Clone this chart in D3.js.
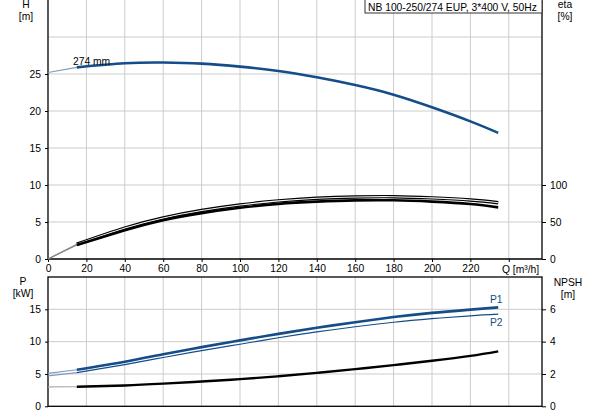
<!DOCTYPE html>
<html>
<head>
<meta charset="utf-8">
<script src="https://cdnjs.cloudflare.com/ajax/libs/d3/7.8.5/d3.min.js"></script>
<style>
  body { margin: 0; background: #fff; }
  text { font-family: Arial, "Liberation Sans", sans-serif; font-size: 10.3px; fill: #000; }
</style>
</head>
<body>
<div class="chart"></div>
<script>
var qValues = [0, 15, 40, 60, 80, 100, 120, 140, 160, 180, 200, 220, 234.5];
var head = [25.2, 25.9, 26.45, 26.55, 26.4, 26.0, 25.4, 24.55, 23.5, 22.2, 20.5, 18.6, 17.05];
var etaPump = [0, 20, 41.8, 55.5, 65.5, 73, 78.5, 82, 83.8, 84.2, 82.6, 79.7, 76];
var etaTotal = [0, 19, 38.8, 52.5, 62, 69.2, 74.5, 77.5, 79.2, 79.3, 77.5, 74.3, 69.8];
var p1 = [5.1, 5.65, 6.9, 8.05, 9.15, 10.2, 11.2, 12.15, 13.0, 13.8, 14.45, 14.95, 15.3];
var p2 = [4.7, 5.2, 6.45, 7.55, 8.6, 9.6, 10.6, 11.5, 12.3, 13.0, 13.55, 14.0, 14.25];
var npsh = [1.2, 1.21, 1.29, 1.4, 1.53, 1.68, 1.86, 2.07, 2.3, 2.55, 2.82, 3.12, 3.4];

var qTicks = [0, 20, 40, 60, 80, 100, 120, 140, 160, 180, 200, 220];
var hTicks = [0, 5, 10, 15, 20, 25];
var hGrid = [5, 10, 15, 20, 25, 30];
var etaTicks = [0, 50, 100];
var pTicks = [0, 5, 10, 15];
var npshTicks = [0, 2, 4, 6];
var title = "NB 100-250/274 EUP, 3*400 V, 50Hz";
var minFlow = 15;

var W = 593, H = 415;
var left = 48, right = 542;
var top1 = 0, bottom1 = 259;
var top2 = 277, bottom2 = 406.3;

var blue = "#144d89";
var grid = "#cccccc";

var svg = d3.select(".chart").append("svg")
    .attr("width", W).attr("height", H);

var x = d3.scaleLinear().domain([0, 257.3]).range([left, right]);
var yH = d3.scaleLinear().domain([0, 35]).range([bottom1, top1]);
var yEta = d3.scaleLinear().domain([0, 350]).range([bottom1, top1]);
var yP = d3.scaleLinear().domain([0, 20]).range([bottom2, top2]);
var yN = d3.scaleLinear().domain([0, 8]).range([bottom2, top2]);

var qGrid = qTicks.slice(1).concat([240]);

// grids
svg.append("g").selectAll("line").data(qGrid).enter().append("line")
    .attr("x1", d => x(d)).attr("x2", d => x(d))
    .attr("y1", top1).attr("y2", bottom1)
    .attr("stroke", grid).attr("stroke-width", 1);
svg.append("g").selectAll("line").data(qGrid).enter().append("line")
    .attr("x1", d => x(d)).attr("x2", d => x(d))
    .attr("y1", top2).attr("y2", bottom2)
    .attr("stroke", grid).attr("stroke-width", 1);
svg.append("g").selectAll("line").data(hGrid).enter().append("line")
    .attr("x1", left).attr("x2", right)
    .attr("y1", d => yH(d)).attr("y2", d => yH(d))
    .attr("stroke", grid).attr("stroke-width", 1);
svg.append("g").selectAll("line").data(pTicks.slice(1)).enter().append("line")
    .attr("x1", left).attr("x2", right)
    .attr("y1", d => yP(d)).attr("y2", d => yP(d))
    .attr("stroke", grid).attr("stroke-width", 1);

// axes
function axisL(scale, ticks, tx) {
    svg.append("g").attr("transform", "translate(" + tx + ",0)")
        .call(d3.axisLeft(scale).tickValues(ticks).tickSize(3).tickPadding(4))
        .call(g => g.select(".domain").remove());
}
function axisR(scale, ticks, tx) {
    svg.append("g").attr("transform", "translate(" + tx + ",0)")
        .call(d3.axisRight(scale).tickValues(ticks).tickSize(4).tickPadding(4))
        .call(g => g.select(".domain").remove());
}
axisL(yH, hTicks, left);
axisR(yEta, etaTicks, right);
axisL(yP, pTicks, left);
axisR(yN, npshTicks, right);

svg.append("g").attr("transform", "translate(0," + bottom1 + ")")
    .call(d3.axisBottom(x).tickValues(qTicks.concat([240])).tickSize(3).tickPadding(3)
        .tickFormat(d => d === 240 ? "" : d))
    .call(g => g.select(".domain").remove());

svg.selectAll(".tick text").style("font-size", "10.3px").attr("font-family", null);

// frames
svg.append("path")
    .attr("d", "M" + left + "," + top1 + "V" + bottom1 + "H" + right + "V" + top1)
    .attr("fill", "none").attr("stroke", "#000").attr("stroke-width", 1.3);
svg.append("rect")
    .attr("x", left).attr("y", top2).attr("width", right - left).attr("height", bottom2 - top2)
    .attr("fill", "none").attr("stroke", "#000").attr("stroke-width", 1.3);

// curves: thin part below minimum flow, thick part above
function series(vals) { return qValues.map((q, i) => ({ q: q, v: vals[i] })); }
function curve(yScale) {
    return d3.line().x(d => x(d.q)).y(d => yScale(d.v)).curve(d3.curveNatural);
}
function draw(vals, yScale, color, width, extColor) {
    var pts = series(vals);
    svg.append("path").datum(pts.filter(d => d.q <= minFlow))
        .attr("d", curve(yScale)).attr("fill", "none")
        .attr("stroke", extColor).attr("stroke-width", 1.2);
    svg.append("path").datum(pts.filter(d => d.q >= minFlow))
        .attr("d", curve(yScale)).attr("fill", "none")
        .attr("stroke", color).attr("stroke-width", width);
}

draw(head, yH, blue, 2.6, "#7f9cbc");
draw(etaPump, yEta, "#000", 3.4, "#888");
svg.append("path").datum(series(etaPump).filter(d => d.q >= minFlow))
    .attr("d", curve(yEta)).attr("fill", "none").attr("stroke", "#f4f4f4").attr("stroke-width", 1.1);
draw(etaTotal, yEta, "#000", 2.6, "#888");
draw(p1, yP, blue, 2.6, "#7f9cbc");
draw(p2, yP, blue, 1.2, "#7f9cbc");
draw(npsh, yN, "#000", 2.4, "#aaa");

// labels
svg.append("text").attr("x", 73).attr("y", 65).text("274 mm");
svg.append("text").attr("x", 490).attr("y", 303).style("fill", blue).text("P1");
svg.append("text").attr("x", 490).attr("y", 326).style("fill", blue).text("P2");

svg.append("text").attr("x", 26).attr("y", 8).attr("text-anchor", "middle").text("H");
svg.append("text").attr("x", 26).attr("y", 20).attr("text-anchor", "middle").text("[m]");
svg.append("text").attr("x", 565).attr("y", 8).attr("text-anchor", "middle").text("eta");
svg.append("text").attr("x", 565).attr("y", 20).attr("text-anchor", "middle").text("[%]");
svg.append("text").attr("x", 23).attr("y", 285).attr("text-anchor", "middle").text("P");
svg.append("text").attr("x", 23).attr("y", 297).attr("text-anchor", "middle").text("[kW]");
svg.append("text").attr("x", 568).attr("y", 286).attr("text-anchor", "middle").text("NPSH");
svg.append("text").attr("x", 568).attr("y", 298).attr("text-anchor", "middle").text("[m]");
svg.append("text").attr("x", 502).attr("y", 272.5).text("Q [m³/h]");

// title box
var tb = svg.append("g");
tb.append("rect")
    .attr("x", 365).attr("y", -1).attr("width", right - 365).attr("height", 14)
    .attr("fill", "#fff").attr("stroke", "#333").attr("stroke-width", 1);
tb.append("text").attr("x", 368).attr("y", 10.5).text(title);
</script>
</body>
</html>
